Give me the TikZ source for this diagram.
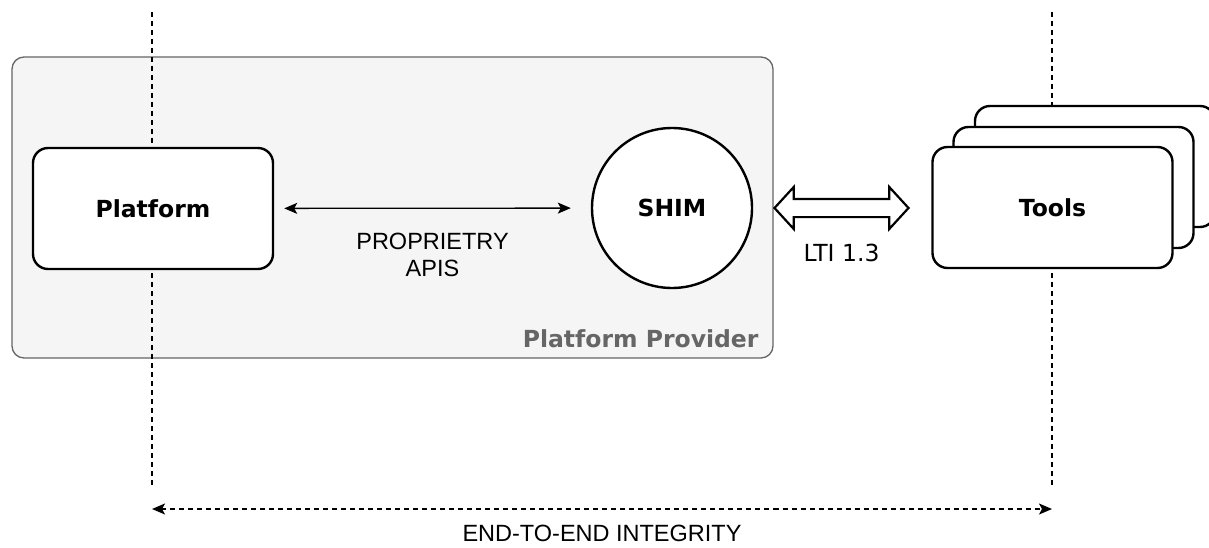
\documentclass[tikz,border=0pt]{standalone}
\usepackage{fontspec}
\setmainfont{DejaVu Sans}
\newfontfamily\capsfont{Liberation Sans}
\usetikzlibrary{arrows.meta}
\usetikzlibrary{shapes.arrows}
\usetikzlibrary{positioning}
\tikzset{>={Stealth[length=13pt,width=11pt,inset=3pt]}}
\definecolor{providerfill}{HTML}{F5F5F5}
\definecolor{providergray}{HTML}{666666}
\tikzset{
  box/.style={draw, line width=2.4pt, fill=white, rounded corners=15pt,
    minimum width=240pt, minimum height=121pt,
    font=\fontsize{23.5}{28}\selectfont\bfseries},
  hub/.style={circle, draw, line width=2.4pt, fill=white, minimum size=160pt,
    font=\fontsize{23.5}{28}\selectfont\bfseries},
  provider/.style={draw=providergray, line width=1.3pt, fill=providerfill,
    rounded corners=12pt, minimum width=761pt, minimum height=301pt},
  guide/.style={line width=1.6pt, dash pattern=on 5pt off 4pt},
  lti/.style={double arrow, draw, line width=2.2pt, fill=white,
    inner xsep=0pt, inner ysep=8pt, double arrow head extend=12pt,
    double arrow tip angle=95, minimum height=134pt},
  plain/.style={font=\fontsize{23.5}{27}\selectfont\capsfont},
}

\begin{document}
\begin{tikzpicture}[x=1pt, y=-1pt]
        \useasboundingbox (0,0) rectangle (1209,548);
        % node
        \node[provider] (provider) at (392.5,207.5) {};
        \node[anchor=base east, text=providergray,
          font=\fontsize{23.5}{28}\selectfont\bfseries] (providerlabel) at (762,347) {Platform Provider};
        % lines
        \coordinate (topL) at (152,12);
        \coordinate (botL) at (152,488);
        \coordinate (topR) at (1052,12);
        \coordinate (botR) at (1052,488);
        \coordinate (endL) at (152,509);
        \coordinate (endR) at (1052,509);
        \draw[guide] (topL) -- (botL);
        \draw[guide] (topR) -- (botR);
        % node
        \node[box] (platform) at (153,208.5) {Platform};
        \node[hub] (shim) at (672,208) {SHIM};
        \node[box] (tools3) at (1095,166.5) {};
        \node[box] (tools2) at (1073.5,187.5) {};
        \node[box] (tools) at (1052.5,207.5) {Tools};
        \node[lti] (lti) at (841.5,208) {};
        \node[plain, font=\fontsize{23.5}{28}\selectfont, below=22pt of lti] (ltilabel) {LTI 1.3};
        % lines
        \draw[<->, line width=1.3pt, shorten <=10pt, shorten >=20pt] (platform) -- (shim)
          node[plain, midway, below=21pt, align=center] (apis) {PROPRIETRY\\APIS};
        \draw[guide, <->] (endL) -- (endR)
          node[plain, midway, below=12pt] (integrity) {END-TO-END INTEGRITY};
      \end{tikzpicture}
\end{document}
